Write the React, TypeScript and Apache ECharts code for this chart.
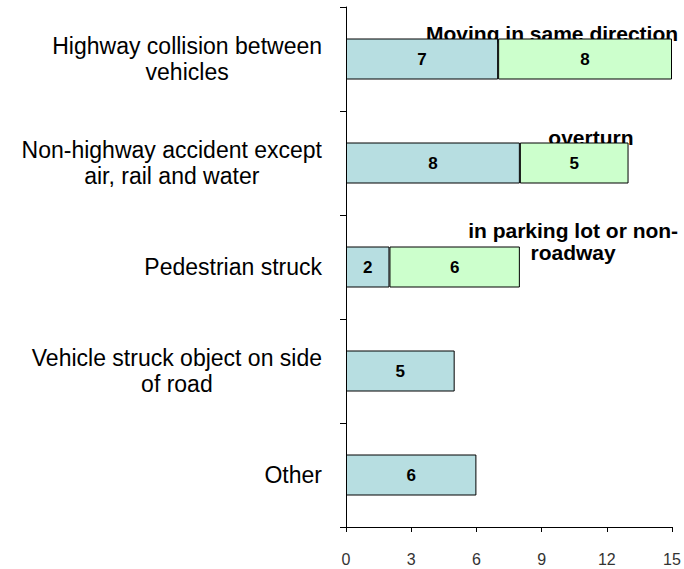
import React, { useEffect, useRef } from "react";
import * as echarts from "echarts";

const categories = [
  "Highway collision between\nvehicles",
  "Non-highway accident except\nair, rail and water",
  "Pedestrian struck",
  "Vehicle struck object on side\nof road",
  "Other",
];
const firstValues = [7, 8, 2, 5, 6];
const secondValues: (number | null)[] = [8, 5, 6, null, null];
const annotationNames = [
  "Moving in same direction",
  "overturn",
  "in parking lot or non-\nroadway",
];
const annotationX = [9.48, 11.27, 10.45];
const annotationCategory = [0, 1, 2];

const FONT = "Liberation Sans";

export default function App() {
  const ref = useRef<HTMLDivElement>(null);
  useEffect(() => {
    if (!ref.current) return;
    const chart = echarts.init(ref.current, undefined, { renderer: "svg" });
    chart.setOption({
      animation: false,
      backgroundColor: "#ffffff",
      grid: { left: 346, right: 12, top: 7, bottom: 42, containLabel: false },
      xAxis: {
        type: "value",
        min: 0,
        max: 15,
        interval: 3,
        splitLine: { show: false },
        axisLine: { show: true, lineStyle: { color: "#000", width: 1 } },
        axisTick: { show: true, length: 5, lineStyle: { color: "#000" } },
        axisLabel: {
          margin: 24,
          fontSize: 16,
          color: "#333",
          fontFamily: FONT,
        },
      },
      yAxis: {
        type: "category",
        inverse: true,
        data: categories,
        axisLine: { show: true, lineStyle: { color: "#000", width: 1 } },
        axisTick: { show: true, length: 6, lineStyle: { color: "#000" } },
        axisLabel: {
          margin: 24,
          color: "#000",
          fontFamily: FONT,
          fontSize: 23,
          lineHeight: 26,
          formatter: (v: string) =>
            v
              .split("\n")
              .map((l) => `{c|${l}}`)
              .join("\n"),
          rich: {
            c: {
              align: "center",
              fontFamily: FONT,
              fontSize: 23,
              lineHeight: 26,
              color: "#000",
            },
          },
        },
      },
      series: [
        {
          type: "scatter",
          z: 1,
          symbolSize: 0,
          silent: true,
          itemStyle: { opacity: 1 },
          data: annotationX.map((x, i) => ({
            value: [x, annotationCategory[i]],
            name: annotationNames[i],
          })),
          label: {
            show: true,
            position: "inside",
            offset: [0, -26],
            formatter: (p: any) => p.name,
            fontFamily: FONT,
            fontWeight: "bold",
            fontSize: 21,
            lineHeight: 22,
            color: "#000",
            opacity: 1,
            align: "center",
          },
        },
        {
          type: "bar",
          z: 2,
          stack: "total",
          barWidth: 41,
          data: firstValues,
          itemStyle: { color: "#B7DEE1", borderColor: "#000", borderWidth: 1 },
          label: {
            show: true,
            position: "inside",
            fontFamily: FONT,
            fontWeight: "bold",
            fontSize: 17,
            color: "#000",
          },
        },
        {
          type: "bar",
          z: 2,
          stack: "total",
          barWidth: 41,
          data: secondValues,
          itemStyle: { color: "#CCFFCC", borderColor: "#000", borderWidth: 1 },
          label: {
            show: true,
            position: "inside",
            fontFamily: FONT,
            fontWeight: "bold",
            fontSize: 17,
            color: "#000",
          },
        },
      ],
    });
    return () => chart.dispose();
  }, []);
  return (
    <div
      ref={ref}
      style={{ position: "absolute", left: 0, top: 0, width: 684, height: 569 }}
    />
  );
}
